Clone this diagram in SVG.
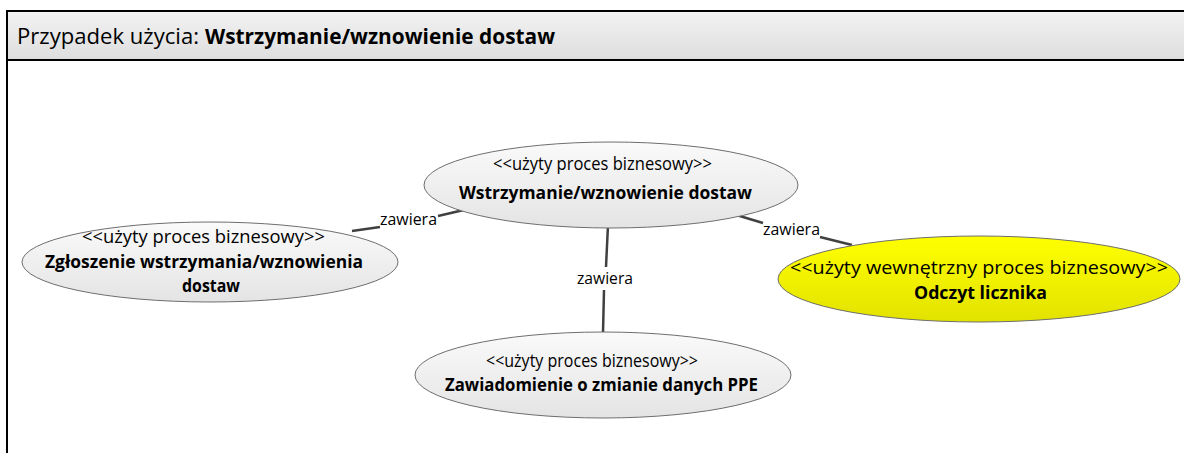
<svg xmlns="http://www.w3.org/2000/svg" width="1184" height="453" viewBox="0 0 1184 453">
<defs>
<linearGradient id="hdr" x1="0" y1="0" x2="0" y2="1"><stop offset="0" stop-color="#f2f2f2"/><stop offset="1" stop-color="#dedede"/></linearGradient>
<linearGradient id="gray" x1="0" y1="0" x2="0" y2="1"><stop offset="0" stop-color="#fafafa"/><stop offset="1" stop-color="#e4e4e4"/></linearGradient>
<linearGradient id="yel" x1="0" y1="0" x2="0" y2="1"><stop offset="0" stop-color="#ffff00"/><stop offset="1" stop-color="#e2e200"/></linearGradient>
</defs>
<style>
text{font-family:"Open Sans","Liberation Sans",sans-serif;fill:#000}
.st{font-size:18px}
.nm{font-size:17.5px;font-weight:bold}
.lb{font-size:15.5px}
.uc{stroke:#6e6e6e;stroke-width:1}
.cn{fill:none;stroke:#404040;stroke-width:2.5}
</style>
<rect x="0" y="0" width="1184" height="453" fill="#fff"/>
<g id="frame">
<rect x="7" y="11" width="1190" height="460" fill="#fff" stroke="#000" stroke-width="2"/>
<rect x="7" y="11" width="1190" height="49" fill="url(#hdr)" stroke="#000" stroke-width="2"/>
<text x="17" y="44" font-size="21" textLength="182" lengthAdjust="spacingAndGlyphs">Przypadek użycia:</text>
<text x="205" y="44" font-size="21" font-weight="bold" textLength="350" lengthAdjust="spacingAndGlyphs">Wstrzymanie/wznowienie dostaw</text>
</g>
<g id="connectors">
<path class="cn" d="M468,209 L438,216 M380,227 L352,231"/>
<text class="lb" x="380" y="225" textLength="57" lengthAdjust="spacingAndGlyphs">zawiera</text>
<path class="cn" d="M608,225 L606,267 M604,290 L603,333"/>
<text class="lb" x="577" y="284" textLength="56" lengthAdjust="spacingAndGlyphs">zawiera</text>
<path class="cn" d="M733,214 L763,223 M820,237 L852,245"/>
<text class="lb" x="763" y="235" textLength="57" lengthAdjust="spacingAndGlyphs">zawiera</text>
</g>
<g id="uc-main">
<ellipse class="uc" cx="611" cy="185" rx="187" ry="43" fill="url(#gray)"/>
<text class="st" x="493" y="170" textLength="219" lengthAdjust="spacingAndGlyphs">&lt;&lt;użyty proces biznesowy&gt;&gt;</text>
<text class="nm" x="459" y="199" textLength="293" lengthAdjust="spacingAndGlyphs">Wstrzymanie/wznowienie dostaw</text>
</g>
<g id="uc-zgloszenie">
<ellipse class="uc" cx="210" cy="262" rx="188" ry="40" fill="url(#gray)"/>
<text class="st" x="82" y="243" textLength="243" lengthAdjust="spacingAndGlyphs">&lt;&lt;użyty proces biznesowy&gt;&gt;</text>
<text class="nm" x="45" y="268" textLength="318" lengthAdjust="spacingAndGlyphs">Zgłoszenie wstrzymania/wznowienia</text>
<text class="nm" x="182" y="292" textLength="58" lengthAdjust="spacingAndGlyphs">dostaw</text>
</g>
<g id="uc-odczyt">
<ellipse class="uc" cx="979" cy="279" rx="201" ry="43" fill="url(#yel)"/>
<text class="st" x="790" y="274" font-size="19.5" textLength="378" lengthAdjust="spacingAndGlyphs">&lt;&lt;użyty wewnętrzny proces biznesowy&gt;&gt;</text>
<text class="nm" x="914" y="299" font-size="18.5" textLength="133" lengthAdjust="spacingAndGlyphs">Odczyt licznika</text>
</g>
<g id="uc-zawiadomienie">
<ellipse class="uc" cx="603" cy="375" rx="188" ry="43" fill="url(#gray)"/>
<text class="st" x="486" y="367" textLength="212" lengthAdjust="spacingAndGlyphs">&lt;&lt;użyty proces biznesowy&gt;&gt;</text>
<text class="nm" x="445" y="391" textLength="313" lengthAdjust="spacingAndGlyphs">Zawiadomienie o zmianie danych PPE</text>
</g>
</svg>
